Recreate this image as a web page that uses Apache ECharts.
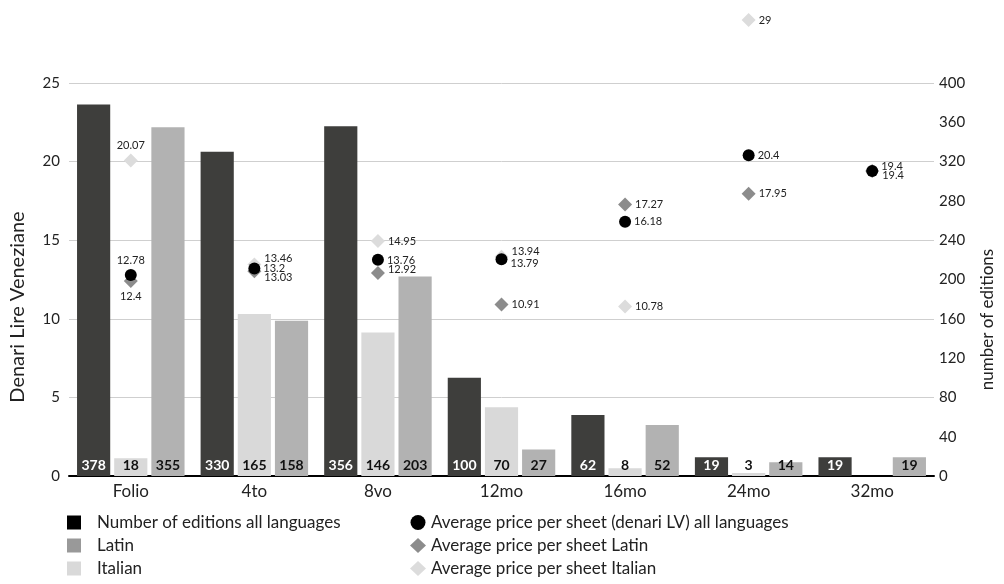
<!DOCTYPE html>
<html>
<head>
<meta charset="utf-8">
<script src="https://cdn.jsdelivr.net/npm/echarts@6/dist/echarts.min.js"></script>
<style>html,body{margin:0;padding:0;background:#fff}#c{width:1004px;height:584px}</style>
</head>
<body>
<div id="c"></div>
<script>
const categories = ['Folio', '4to', '8vo', '12mo', '16mo', '24mo', '32mo'];
const editionsAll = [378, 330, 356, 100, 62, 19, 19];
const editionsItalian = [18, 165, 146, 70, 8, 3, null];
const editionsLatin = [355, 158, 203, 27, 52, 14, 19];
const priceAll = [12.78, 13.2, 13.76, 13.79, 16.18, 20.4, 19.4];
const priceLatin = [12.4, 13.03, 12.92, 10.91, 17.27, 17.95, 19.4];
const priceItalian = [20.07, 13.46, 14.95, 13.94, 10.78, 29, null];
const leftTicks = [0, 5, 10, 15, 20, 25];
const rightTicks = [0, 40, 80, 120, 160, 200, 240, 280, 320, 360, 400];

const FONT = 'Lato';
const TXT = '#222';

// label placement per point (style only)
const posAll = [
  {position: 'top', offset: [0, 0]}, {position: 'right', offset: [0, 0]}, {position: 'right', offset: [0, 1]},
  {position: 'right', offset: [0, 4]}, {position: 'right', offset: [0, 0]}, {position: 'right', offset: [0, 0]},
  {position: 'right', offset: [0, -5]}
];
const posLatin = [
  {position: 'bottom', offset: [0, 0]}, {position: 'right', offset: [0, 6]}, {position: 'right', offset: [0, -3]},
  {position: 'right', offset: [0, 0]}, {position: 'right', offset: [0, 0]}, {position: 'right', offset: [0, 0]},
  {position: 'right', offset: [0, 4]}
];
const posItalian = [
  {position: 'top', offset: [0, 0]}, {position: 'right', offset: [0, -6]}, {position: 'right', offset: [0, 0]},
  {position: 'right', offset: [0, -5]}, {position: 'right', offset: [0, 0]}, {position: 'right', offset: [0, 0]},
  {position: 'right', offset: [0, 0]}
];

function scatterData(vals, pos) {
  return vals.map((v, i) => v == null ? null : ({
    value: [categories[i], v],
    label: {position: pos[i].position, offset: pos[i].offset}
  }));
}

function barSeries(name, data, color, labelColor) {
  return {
    name: name, type: 'bar', yAxisIndex: 1, data: data,
    barGap: '12%', barCategoryGap: '13%',
    itemStyle: {color: color},
    label: {show: true, position: 'insideBottom', distance: 4,
      color: labelColor, fontFamily: FONT, fontWeight: 'bold', fontSize: 14},
    z: 1
  };
}

function scatterSeries(name, vals, pos, symbol, size, color) {
  return {
    name: name, type: 'scatter', yAxisIndex: 0, clip: false,
    symbol: symbol, symbolSize: size,
    data: scatterData(vals, pos),
    itemStyle: {color: color, opacity: 1},
    label: {show: true, distance: 3, fontFamily: FONT, fontSize: 11, color: TXT,
      formatter: p => String(p.value[1])},
    z: 5
  };
}

const chart = echarts.init(document.getElementById('c'));
chart.setOption({
  animation: false,
  textStyle: {fontFamily: FONT},
  grid: {left: 62, right: 68, top: 83, bottom: 108},
  legend: [
    {
      orient: 'vertical', left: 62, top: 509, itemGap: 6, itemWidth: 14, itemHeight: 14,
      icon: 'rect',
      textStyle: {fontFamily: FONT, fontSize: 17, color: TXT, padding: [0, 0, 0, 11]},
      data: [
        {name: 'Number of editions all languages', itemStyle: {color: '#000'}},
        {name: 'Latin', itemStyle: {color: '#999'}},
        {name: 'Italian', itemStyle: {color: '#d9d9d9'}}
      ],
      selectedMode: false
    },
    {
      orient: 'vertical', left: 405, top: 509, itemGap: 6, itemWidth: 16, itemHeight: 15,
      textStyle: {fontFamily: FONT, fontSize: 17, color: TXT, padding: [0, 0, 0, 0]},
      data: [
        {name: 'Average price per sheet (denari LV) all languages', icon: 'circle', itemStyle: {color: '#000'}},
        {name: 'Average price per sheet Latin', icon: 'diamond', itemStyle: {color: '#8c8c8c'}},
        {name: 'Average price per sheet Italian', icon: 'diamond', itemStyle: {color: '#dcdcdc'}}
      ],
      selectedMode: false
    }
  ],
  xAxis: {
    type: 'category', data: categories,
    axisLine: {lineStyle: {color: '#000', width: 2}},
    axisTick: {show: false},
    axisLabel: {fontFamily: FONT, fontSize: 17, color: TXT, margin: 7}
  },
  yAxis: [
    {
      type: 'value', min: leftTicks[0], max: leftTicks[leftTicks.length - 1], interval: leftTicks[1] - leftTicks[0],
      name: 'Denari Lire Veneziane', nameLocation: 'middle', nameRotate: 90, nameGap: 41,
      nameTextStyle: {fontFamily: FONT, fontSize: 20, color: TXT, padding: [0, 55, 0, 0]},
      axisLine: {show: false}, axisTick: {show: false},
      axisLabel: {fontFamily: FONT, fontSize: 15, color: TXT, margin: 9},
      splitLine: {lineStyle: {color: '#cfcfcf', width: 1}}
    },
    {
      type: 'value', position: 'right', min: rightTicks[0], max: rightTicks[rightTicks.length - 1], interval: rightTicks[1] - rightTicks[0],
      name: 'number of editions', nameLocation: 'middle', nameRotate: 90, nameGap: 45,
      nameTextStyle: {fontFamily: FONT, fontSize: 17, color: TXT, padding: [0, 80, 0, 0]},
      axisLine: {show: false}, axisTick: {show: false},
      axisLabel: {fontFamily: FONT, fontSize: 15, color: TXT, margin: 5},
      splitLine: {show: false}
    }
  ],
  series: [
    barSeries('Number of editions all languages', editionsAll, '#3e3e3c', '#fff'),
    barSeries('Italian', editionsItalian, '#d9d9d9', '#111'),
    barSeries('Latin', editionsLatin, '#b2b2b2', '#111'),
    scatterSeries('Average price per sheet Latin', priceLatin, posLatin, 'diamond', 14, '#8c8c8c'),
    scatterSeries('Average price per sheet Italian', priceItalian, posItalian, 'diamond', 14, '#dcdcdc'),
    scatterSeries('Average price per sheet (denari LV) all languages', priceAll, posAll, 'circle', 12, '#000')
  ]
});
</script>
</body>
</html>
